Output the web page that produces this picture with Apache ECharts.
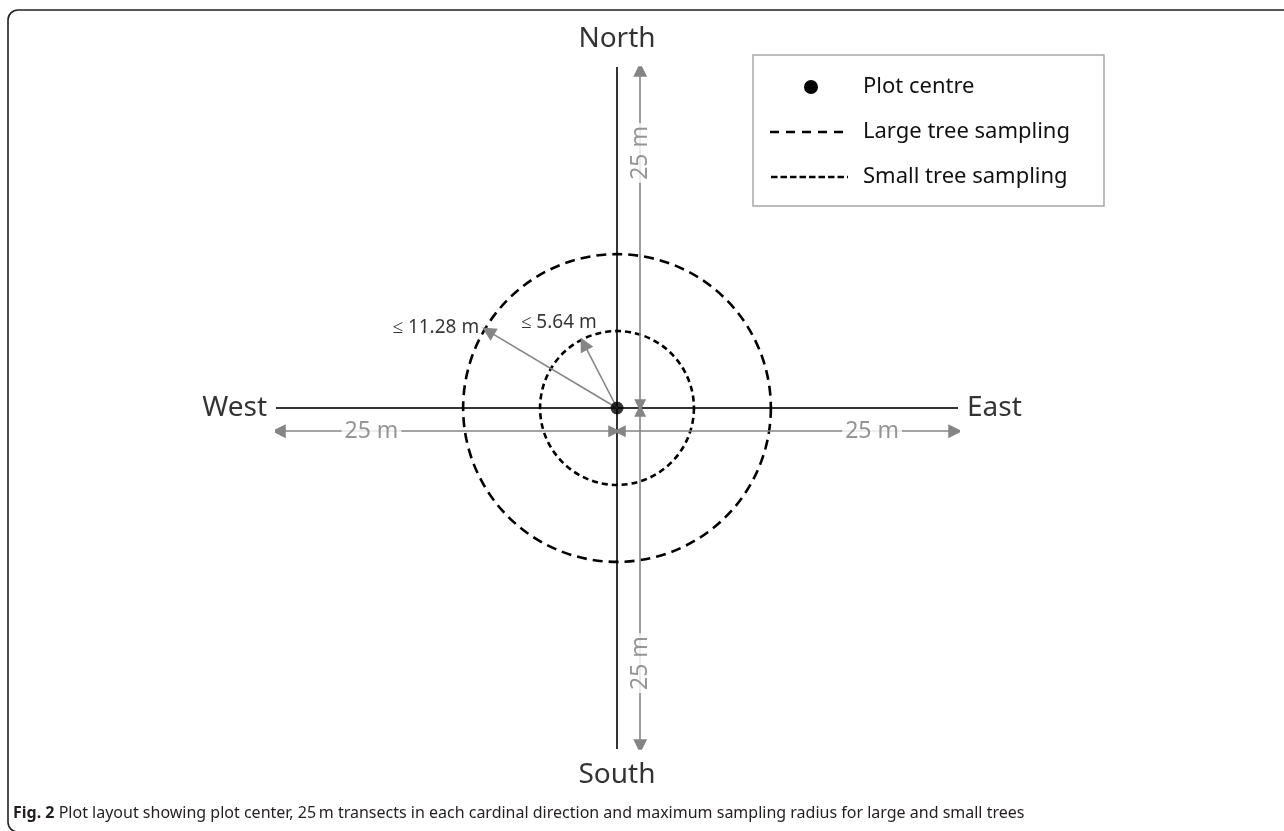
<!DOCTYPE html>
<html><head><meta charset="utf-8">
<script src="https://cdn.jsdelivr.net/npm/echarts@6/dist/echarts.min.js"></script>
<style>html,body{margin:0;padding:0;background:#fff}#c{width:1284px;height:831px}</style>
</head><body><div id="c"></div>
<script>
// ---- data ----
const directions = ['North', 'East', 'South', 'West'];
const transectLength = 25;            // m
const transectLabel = '25 m';
const samplingRadii = [11.28, 5.64];  // m (large, small)
const radiusLabels = ['≤ 11.28 m', '≤ 5.64 m'];
const legendLabels = ['Plot centre', 'Large tree sampling', 'Small tree sampling'];
const captionBold = 'Fig. 2';
const captionText = 'Plot layout showing plot center, 25\u2009m transects in each cardinal direction and maximum sampling radius for large and small trees';

// ---- layout / style constants ----
const FONT = 'Noto Sans';
const GREY = '#858585';
const arrowOffset = 1.7;      // m, distance of the measuring arrows from the transect
const arrowStart = 0.2, arrowEnd = 24.8;
const labelAt = [18.7, 18.7, 18.7, 18.0];     // along-transect position of the "25 m" label
const radiusAngles = [149.2, 117.3];          // degrees
const radiusReach = [0.975, 0.94];
const circleDash = [[10, 6], [6, 4]];
const L = transectLength;

const dirVec = { North: [0, 1], East: [1, 0], South: [0, -1], West: [-1, 0] };
const offVec = { North: [arrowOffset, 0], South: [arrowOffset, 0], East: [0, -arrowOffset], West: [0, -arrowOffset] };

function along(d, t) {
  const v = dirVec[d], o = offVec[d];
  return [o[0] + v[0] * t, o[1] + v[1] * t];
}

const transectArrows = directions.map(d => ({ coords: [along(d, arrowStart), along(d, arrowEnd)] }));
const transectLabels = directions.map((d, i) => ({
  value: along(d, labelAt[i]),
  label: { rotate: (d === 'North' || d === 'South') ? 90 : 0 }
}));
const tips = samplingRadii.map((r, i) => {
  const a = radiusAngles[i] * Math.PI / 180;
  return [r * radiusReach[i] * Math.cos(a), r * radiusReach[i] * Math.sin(a)];
});

const dirLabelPos = { North: ['top', 14], South: ['bottom', 12], East: ['right', 9], West: ['left', 9] };

const chart = echarts.init(document.getElementById('c'), null, { renderer: 'canvas' });
chart.setOption({
  animation: false,
  backgroundColor: '#fff',
  grid: { left: 276, top: 67, width: 682, height: 682 },
  xAxis: { type: 'value', min: -L, max: L, show: false },
  yAxis: { type: 'value', min: -L, max: L, show: false },
  series: [
    { // transects (cross)
      type: 'lines', coordinateSystem: 'cartesian2d', z: 3,
      symbol: 'none',
      lineStyle: { color: '#333', width: 2, opacity: 1 },
      data: [
        { coords: [[-L, 0], [L, 0]] },
        { coords: [[0, -L], [0, L]] }
      ]
    },
    { // sampling circles
      type: 'custom', coordinateSystem: 'cartesian2d', z: 4,
      data: samplingRadii.map((r, i) => [0, 0, r, i]),
      renderItem: function (params, api) {
        const c = api.coord([api.value(0), api.value(1)]);
        const rp = api.size([api.value(2), 0])[0];
        const i = api.value(3);
        return {
          type: 'circle',
          shape: { cx: c[0], cy: c[1], r: rp },
          style: { fill: 'none', stroke: '#000', lineWidth: 2.6, lineDash: circleDash[i] }
        };
      }
    },
    { // 25 m measuring arrows
      type: 'lines', coordinateSystem: 'cartesian2d', z: 5,
      symbol: ['triangle', 'triangle'], symbolSize: [12, 14],
      lineStyle: { color: GREY, width: 1.6, opacity: 1 },
      itemStyle: { color: GREY },
      data: transectArrows
    },
    { // 25 m labels
      type: 'scatter', z: 6, symbolSize: 0,
      label: {
        show: true, position: 'inside', formatter: transectLabel,
        color: '#7a7a7a', fontFamily: FONT, fontSize: 23,
        backgroundColor: '#fff', padding: [0, 3]
      },
      data: transectLabels
    },
    { // radius arrows
      type: 'lines', coordinateSystem: 'cartesian2d', z: 5,
      symbol: ['none', 'triangle'], symbolSize: [12, 14],
      lineStyle: { color: GREY, width: 1.6, opacity: 1 },
      itemStyle: { color: GREY },
      data: tips.map(t => ({ coords: [[0, 0], t] }))
    },
    { // radius labels
      type: 'scatter', z: 6, symbolSize: 0,
      data: [
        { value: tips[0], label: { position: 'left', distance: 9, offset: [0, -4], formatter: radiusLabels[0] } },
        { value: tips[1], label: { position: 'top', distance: 12, offset: [-25, 0], formatter: radiusLabels[1] } }
      ],
      label: { show: true, color: '#000', fontFamily: FONT, fontSize: 19 }
    },
    { // direction names
      type: 'scatter', z: 6, symbolSize: 0,
      data: directions.map(d => ({
        value: [dirVec[d][0] * L, dirVec[d][1] * L],
        label: { position: dirLabelPos[d][0], distance: dirLabelPos[d][1], formatter: d }
      })),
      label: { show: true, color: '#000', fontFamily: FONT, fontSize: 28 }
    },
    { // plot centre
      type: 'scatter', z: 10, symbolSize: 13,
      itemStyle: { color: '#000' },
      data: [[0, 0]]
    }
  ],
  graphic: [
    { // frame
      type: 'rect', z: 1,
      shape: { x: 8, y: 10, width: 1400, height: 822, r: 10 },
      style: { fill: 'none', stroke: '#222', lineWidth: 1.6 }
    },
    { type: 'rect', shape: { x: 753, y: 55, width: 351, height: 151 },
      style: { fill: '#fff', stroke: '#a8a8a8', lineWidth: 1.5 }, z: 20 },
    { type: 'circle', shape: { cx: 811, cy: 87, r: 7 }, style: { fill: '#000' }, z: 21 },
    { type: 'line', shape: { x1: 770, y1: 132, x2: 848, y2: 132 },
      style: { stroke: '#000', lineWidth: 2.6, lineDash: [9, 7] }, z: 21 },
    { type: 'line', shape: { x1: 771, y1: 177, x2: 848, y2: 177 },
      style: { stroke: '#000', lineWidth: 2.6, lineDash: [6.5, 3] }, z: 21 },
    ...legendLabels.map((t, i) => ({
      type: 'text', z: 21, x: 863, y: 87 + i * 45,
      style: { text: t, fontFamily: FONT, fontSize: 22, fill: '#111', verticalAlign: 'middle' }
    })),
    { type: 'text', z: 21, x: 13, y: 813,
      style: {
        text: '{b|' + captionBold + '} ' + captionText,
        fontFamily: FONT, fontSize: 16, fill: '#231f20', verticalAlign: 'middle',
        rich: { b: { fontFamily: FONT, fontSize: 16, fontWeight: 'bold', fill: '#231f20' } }
      }
    }
  ]
});
</script>
</body></html>
